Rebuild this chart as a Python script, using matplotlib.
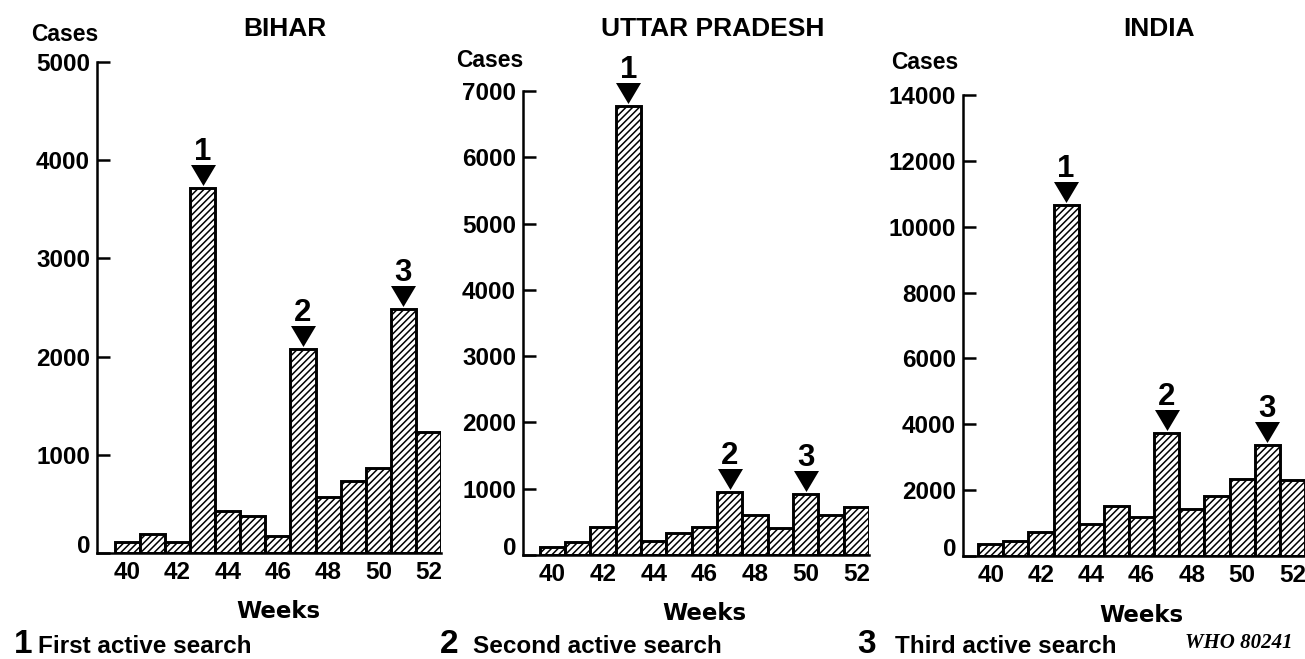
import matplotlib
matplotlib.use("Agg")
import matplotlib.pyplot as plt
from matplotlib import font_manager as fm
from matplotlib.transforms import offset_copy, ScaledTranslation

# ---------------- data ----------------
weeks = list(range(40, 53))
bihar = [110, 190, 110, 3720, 430, 380, 170, 2080, 570, 730, 870, 2480, 1230]
uttar_pradesh = [120, 200, 420, 6780, 210, 330, 420, 950, 600, 400, 920, 600, 720]
india = [350, 450, 730, 10650, 970, 1520, 1180, 3730, 1430, 1830, 2330, 3370, 2300]

titles = ["BIHAR", "UTTAR PRADESH", "INDIA"]
y_max = [5000, 7000, 14000]
y_step = [1000, 1000, 2000]
x_tick_weeks = [40, 42, 44, 46, 48, 50, 52]
search_weeks = [[43, 47, 51], [43, 47, 50], [43, 47, 51]]
search_labels = ["1", "2", "3"]
legend_text = ["First active search", "Second active search", "Third active search"]
y_label = "Cases"
x_label = "Weeks"
credit = "WHO 80241"

# ---------------- fonts ----------------
SANS = "Liberation Sans"
SERIF = "Liberation Serif"
plt.rcParams["font.family"] = [SANS, "DejaVu Sans"]
plt.rcParams["hatch.linewidth"] = 1.1

W, H = 1305, 659
fig = plt.figure(figsize=(W / 100, H / 100), dpi=100)


def fx(px):
    return px / W


def fy(py):
    return 1 - py / H


# panel geometry in pixels
panels = [
    dict(l=97, r=441, b=553, t=62, x0=38.79, title_x=285, cases_x=98, cases_y=41, weeks_y=618),
    dict(l=523, r=869, b=555, t=91, x0=38.84, title_x=713, cases_x=523, cases_y=67, weeks_y=620),
    dict(l=963, r=1305, b=556, t=95, x0=38.90, title_x=1159, cases_x=958, cases_y=69, weeks_y=622),
]
series = [bihar, uttar_pradesh, india]

tick_size = 17.5
tri = [(-1, 0.84), (1, 0.84), (0, -0.84)]

for i, (p, vals) in enumerate(zip(panels, series)):
    ax = fig.add_axes([fx(p["l"]), fy(p["b"]), (p["r"] - p["l"]) / W, (p["b"] - p["t"]) / H])
    ax.bar(weeks, vals, width=1.0, facecolor="white", edgecolor="black",
           linewidth=2.1, hatch="/////", zorder=2)
    ax.set_xlim(p["x0"], 52.5)
    ax.set_ylim(0, y_max[i])
    for s in ["top", "right"]:
        ax.spines[s].set_visible(False)
    for s in ["left", "bottom"]:
        ax.spines[s].set_linewidth(1.8)
        ax.spines[s].set_zorder(3)
    yt = list(range(0, y_max[i] + 1, y_step[i]))
    ax.set_yticks(yt)
    ax.set_yticklabels([str(v) for v in yt])
    ax.set_xticks(x_tick_weeks)
    ax.set_xticklabels([str(w) for w in x_tick_weeks])
    ax.tick_params(axis="y", direction="in", length=9.5, width=1.8, pad=5)
    ax.tick_params(axis="x", length=0, pad=6)
    for lab in ax.get_yticklabels() + ax.get_xticklabels():
        lab.set_fontweight("bold")
        lab.set_fontsize(tick_size)
    # the zero label sits a little above the axis in the original
    zlab = ax.get_yticklabels()[0]
    zlab.set_transform(zlab.get_transform() + ScaledTranslation(0, 0.09, fig.dpi_scale_trans))
    ax.patch.set_visible(False)

    # search markers
    for k, w in enumerate(search_weeks[i]):
        v = vals[weeks.index(w)]
        t_tri = offset_copy(ax.transData, fig=fig, x=0, y=13, units="dots")
        ax.plot([w], [v], marker=tri, ms=18, color="black", mew=0,
                transform=t_tri, clip_on=False, zorder=4)
        t_num = offset_copy(ax.transData, fig=fig, x=0, y=28, units="dots")
        ax.text(w, v, search_labels[k], transform=t_num, ha="center", va="baseline",
                fontsize=22.5, fontweight="bold", clip_on=False)

    # Weeks label centred on week 46
    fig.text(fx(p["l"] + (46 - p["x0"]) * (p["r"] - p["l"]) / (52.5 - p["x0"])),
             fy(p["weeks_y"]), x_label, ha="center", va="baseline",
             fontsize=16.5, fontweight="bold", family="DejaVu Sans")

    # title
    fig.text(fx(p["title_x"]), fy(36), titles[i], ha="center", va="baseline",
             fontsize=19, fontweight="bold", family=SANS)
    # Cases
    fig.text(fx(p["cases_x"]), fy(p["cases_y"]), y_label, ha="right", va="baseline",
             fontsize=16.5, fontweight="bold", family=SANS)

# legend line
num_x = [14, 440, 857]
txt_x = [38, 473, 895]
for k in range(3):
    fig.text(fx(num_x[k]), fy(653), search_labels[k], ha="left", va="baseline",
             fontsize=24, fontweight="bold", family=SANS)
    fig.text(fx(txt_x[k]), fy(653), legend_text[k], ha="left", va="baseline",
             fontsize=17.5, fontweight="bold", family=SANS)
fig.text(fx(1185), fy(648), credit, ha="left", va="baseline", fontsize=15,
         fontweight="bold", fontstyle="italic", family=SERIF)

fig.savefig("out.png", dpi=100)
